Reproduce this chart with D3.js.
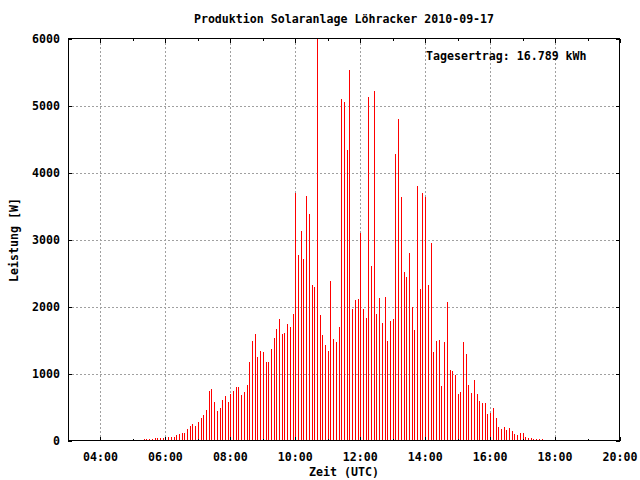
<!DOCTYPE html>
<html>
<head>
<meta charset="utf-8">
<script src="https://cdn.jsdelivr.net/npm/d3@7"></script>
<style>
  html, body { margin: 0; padding: 0; background: #fff; }
  svg text { font-family: "DejaVu Sans Mono", "Liberation Mono", monospace; font-weight: bold; font-size: 11.6px; fill: #000; }
</style>
</head>
<body>
<svg id="chart" width="640" height="480"></svg>
<script>
const title = "Produktion Solaranlage Löhracker 2010-09-17";
const xLabel = "Zeit (UTC)";
const yLabel = "Leistung [W]";
const keyLabel = "Tagesertrag: 16.789 kWh";

const times = [
  "05:20","05:25","05:30","05:35","05:40","05:45","05:50","05:55",
  "06:00","06:05","06:10","06:15","06:20","06:25","06:30","06:35","06:40","06:45","06:50","06:55",
  "07:00","07:05","07:10","07:15","07:20","07:25","07:30","07:35","07:40","07:45","07:50","07:55",
  "08:00","08:05","08:10","08:15","08:20","08:25","08:30","08:35","08:40","08:45","08:50","08:55",
  "09:00","09:05","09:10","09:15","09:20","09:25","09:30","09:35","09:40","09:45","09:50","09:55",
  "10:00","10:05","10:10","10:15","10:20","10:25","10:30","10:35","10:40","10:45","10:50","10:55",
  "11:00","11:05","11:10","11:15","11:20","11:25","11:30","11:35","11:40","11:45","11:50","11:55",
  "12:00","12:05","12:10","12:15","12:20","12:25","12:30","12:35","12:40","12:45","12:50","12:55",
  "13:00","13:05","13:10","13:15","13:20","13:25","13:30","13:35","13:40","13:45","13:50","13:55",
  "14:00","14:05","14:10","14:15","14:20","14:25","14:30","14:35","14:40","14:45","14:50","14:55",
  "15:00","15:05","15:10","15:15","15:20","15:25","15:30","15:35","15:40","15:45","15:50","15:55",
  "16:00","16:05","16:10","16:15","16:20","16:25","16:30","16:35","16:40","16:45","16:50","16:55",
  "17:00","17:05","17:10","17:15","17:20","17:25","17:30","17:35"
];

const power = [
  15,15,15,15,30,30,30,30,
  35,45,45,45,75,90,105,105,165,210,240,210,
  270,340,385,460,740,770,580,445,490,610,670,580,
  690,740,800,800,685,730,830,1175,1485,1590,1250,1335,
  1320,1175,1175,1370,1535,1660,1810,1586,1600,1736,1690,1885,
  3696,2768,3127,2708,3651,3382,2319,2289,6000,1870,1571,1421,
  1332,2379,1511,1466,1691,5102,5057,4339,5536,1960,2095,2110,
  3097,1960,1825,5132,2603,5222,1885,2125,1751,2140,1481,1781,
  1810,4279,4803,3634,2512,2436,2795,1988,1644,3797,2257,3692,
  3632,2317,2945,1315,1480,1495,807,1465,2063,1046,1031,972,
  688,717,1465,1296,835,713,906,698,594,564,564,401,
  416,490,342,208,178,208,163,193,149,104,89,119,
  119,59,30,30,15,15,15,15
];

const xMajorTicks = ["04:00","06:00","08:00","10:00","12:00","14:00","16:00","18:00","20:00"];
const xMinorTicks = ["03:00","05:00","07:00","09:00","11:00","13:00","15:00","17:00","19:00"];
const yTicks = [0,1000,2000,3000,4000,5000,6000];

const toMin = s => { const p = s.split(":"); return +p[0]*60 + +p[1]; };

const L = 68, R = 620, T = 38.5, B = 440.5;
const svg = d3.select("#chart");

const x = d3.scaleLinear().domain([toMin("03:00"), toMin("20:00")]).range([L, R]);
const y = d3.scaleLinear().domain([0, 6000]).range([B, T]);

// grid
const grid = svg.append("g").attr("stroke", "#a0a0a0").attr("stroke-width", 1)
  .attr("stroke-dasharray", "2,2").attr("shape-rendering", "crispEdges");
xMajorTicks.filter(t => toMin(t) < toMin("20:00")).forEach(t => {
  grid.append("line").attr("x1", Math.round(x(toMin(t))) + 0.5).attr("x2", Math.round(x(toMin(t))) + 0.5)
    .attr("y1", T).attr("y2", B);
});
yTicks.filter(v => v > 0 && v < 6000).forEach(v => {
  grid.append("line").attr("x1", L).attr("x2", R)
    .attr("y1", Math.round(y(v)) + 0.5).attr("y2", Math.round(y(v)) + 0.5);
});

// impulses
svg.append("g").selectAll("line").data(times.map((t, i) => ({t: toMin(t), v: power[i]})))
  .join("line")
  .attr("x1", d => Math.round(x(d.t)) + 0.5)
  .attr("x2", d => Math.round(x(d.t)) + 0.5)
  .attr("y1", y(0))
  .attr("y2", d => y(Math.min(d.v, 6000)))
  .attr("stroke", "#ff0000").attr("stroke-width", 1).attr("shape-rendering", "crispEdges");

// border
svg.append("rect").attr("x", L + 0.5).attr("y", T).attr("width", R - L - 1).attr("height", B - T)
  .attr("fill", "none").attr("stroke", "#000").attr("stroke-width", 1).attr("shape-rendering", "crispEdges");

// ticks
const tk = svg.append("g").attr("stroke", "#000").attr("stroke-width", 1).attr("shape-rendering", "crispEdges");
xMajorTicks.forEach(t => {
  const px = Math.round(x(toMin(t))) + 0.5;
  tk.append("line").attr("x1", px).attr("x2", px).attr("y1", B).attr("y2", B - 4);
  tk.append("line").attr("x1", px).attr("x2", px).attr("y1", T).attr("y2", T + 4);
});
xMinorTicks.forEach(t => {
  const px = Math.round(x(toMin(t))) + 0.5;
  tk.append("line").attr("x1", px).attr("x2", px).attr("y1", B).attr("y2", B - 2);
  tk.append("line").attr("x1", px).attr("x2", px).attr("y1", T).attr("y2", T + 2);
});
yTicks.forEach(v => {
  const py = Math.round(y(v)) + 0.5;
  tk.append("line").attr("x1", L).attr("x2", L + 4).attr("y1", py).attr("y2", py);
  tk.append("line").attr("x1", R).attr("x2", R - 4).attr("y1", py).attr("y2", py);
});

// tick labels
svg.append("g").selectAll("text").data(xMajorTicks).join("text")
  .attr("x", d => x(toMin(d))).attr("y", 461).attr("text-anchor", "middle").text(d => d);
svg.append("g").selectAll("text").data(yTicks).join("text")
  .attr("x", 60).attr("y", d => y(d) + 4).attr("text-anchor", "end").text(d => d);

// titles
svg.append("text").attr("x", 344).attr("y", 23).attr("text-anchor", "middle").text(title);
svg.append("text").attr("x", 344).attr("y", 476).attr("text-anchor", "middle").text(xLabel);
svg.append("text").attr("transform", "translate(18,240) rotate(-90)").attr("text-anchor", "middle").text(yLabel);
svg.append("text").attr("x", 426).attr("y", 60).attr("text-anchor", "start").text(keyLabel);
</script>
</body>
</html>
